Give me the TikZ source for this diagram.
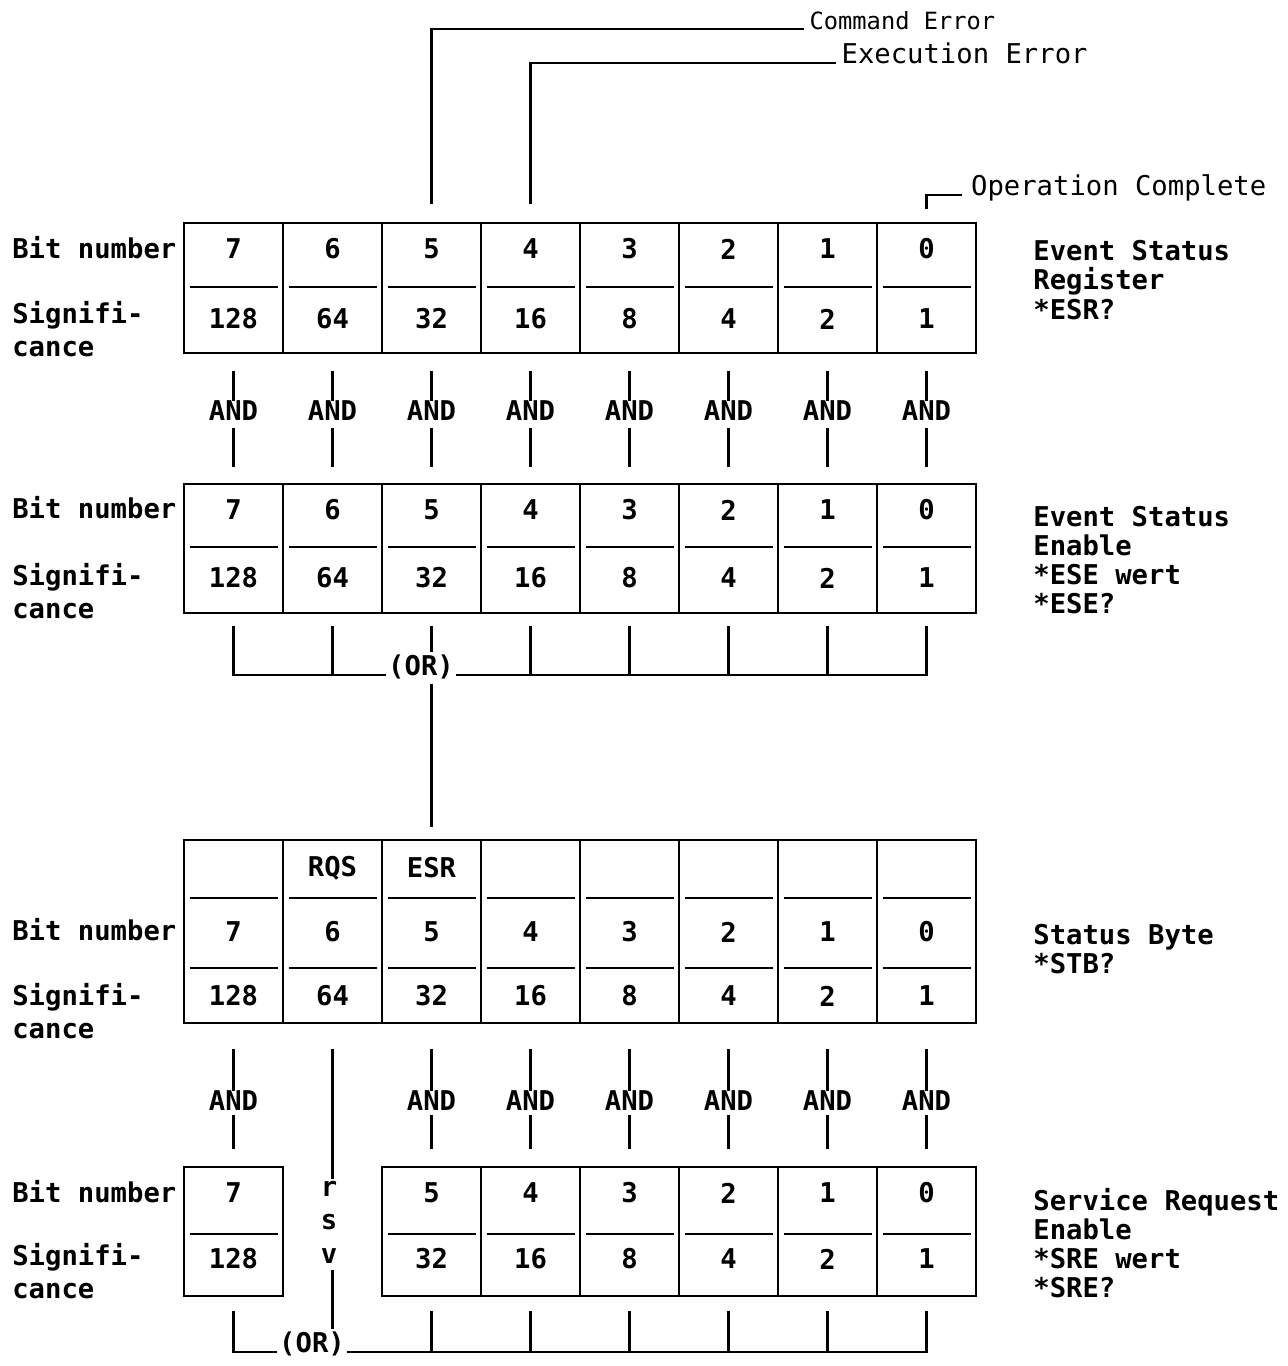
\documentclass[tikz,border=0pt]{standalone}
\usepackage{fontspec}
\usetikzlibrary{positioning}
\newfontfamily\regfamily{DejaVu Sans Mono}
\newcommand{\regfont}{\regfamily\bfseries\fontsize{15.5}{18.5}\selectfont}
\newcommand{\sidefont}{\regfamily\bfseries\fontsize{15.5}{16.6}\selectfont}
\newcommand{\notefont}{\regfamily\fontsize{15.5}{18.5}\selectfont}

\begin{document}
\begin{tikzpicture}[x=0.02cm, y=-0.02cm,
  wire/.style={line width=1.5pt},
  regcol/.style={draw, line width=1.5pt, minimum width=1.98cm, inner sep=0pt},
  bittext/.style={font=\regfont, inner sep=0pt},
  lbl/.style={font=\regfont, anchor=west, align=left, inner sep=0pt},
  sidelbl/.style={font=\sidefont, anchor=west, align=left, inner sep=0pt},
  andlbl/.style={font=\regfont, inner sep=0pt},
  orlbl/.style={font=\regfont, inner sep=1pt, anchor=base},
  note/.style={font=\notefont, anchor=base west, inner sep=3pt}]

\useasboundingbox (0,0) rectangle (1288,1366);

% --- Event Status Register ---
\foreach \b/\v [evaluate=\b as \cx using 233.5+(7-\b)*99] in {7/128,6/64,5/32,4/16,3/8,2/4,1/2,0/1} {
  \node[regcol, minimum height=2.6cm] (esr\b) at (\cx,288) {};
  \node[bittext] (esr\b-n) at (\cx,249) {\b};
  \node[bittext] (esr\b-v) at (\cx,319) {\v};
  \draw[wire] (\cx-44,287) -- (\cx+44,287);
}
\node[lbl] (esr-bn) at (12,248) {Bit number};
\node[lbl] (esr-sig) at (12,329) {Signifi-\\cance};
\node[sidelbl] (esr-name) at (1033,280) {Event Status\\Register\\*ESR?};

% --- Event Status Enable ---
\foreach \b/\v [evaluate=\b as \cx using 233.5+(7-\b)*99] in {7/128,6/64,5/32,4/16,3/8,2/4,1/2,0/1} {
  \node[regcol, minimum height=2.58cm] (ese\b) at (\cx,548.5) {};
  \node[bittext] (ese\b-n) at (\cx,510) {\b};
  \node[bittext] (ese\b-v) at (\cx,578) {\v};
  \draw[wire] (\cx-44,547) -- (\cx+44,547);
}
\node[lbl] (ese-bn) at (12,508) {Bit number};
\node[lbl] (ese-sig) at (12,591) {Signifi-\\cance};
\node[sidelbl] (ese-name) at (1033,560) {Event Status\\Enable\\*ESE wert\\*ESE?};

% --- Status Byte ---
\foreach \b/\v/\t [evaluate=\b as \cx using 233.5+(7-\b)*99] in {7/128/{},6/64/RQS,5/32/ESR,4/16/{},3/8/{},2/4/{},1/2/{},0/1/{}} {
  \node[regcol, minimum height=3.66cm] (stb\b) at (\cx,931.5) {};
  \node[bittext] (stb\b-t) at (\cx,868) {\t};
  \node[bittext] (stb\b-n) at (\cx,932) {\b};
  \node[bittext] (stb\b-v) at (\cx,996) {\v};
  \draw[wire] (\cx-44,898) -- (\cx+44,898);
  \draw[wire] (\cx-44,968) -- (\cx+44,968);
}
\node[lbl] (stb-bn) at (12,930) {Bit number};
\node[lbl] (stb-sig) at (12,1011) {Signifi-\\cance};
\node[sidelbl] (stb-name) at (1033,949) {Status Byte\\*STB?};

% --- Service Request Enable ---
\foreach \b/\v [evaluate=\b as \cx using 233.5+(7-\b)*99] in {7/128,5/32,4/16,3/8,2/4,1/2,0/1} {
  \node[regcol, minimum height=2.58cm] (sre\b) at (\cx,1231.5) {};
  \node[bittext] (sre\b-n) at (\cx,1193) {\b};
  \node[bittext] (sre\b-v) at (\cx,1259) {\v};
  \draw[wire] (\cx-44,1234) -- (\cx+44,1234);
}
\node[lbl] (sre-bn) at (12,1192) {Bit number};
\node[lbl] (sre-sig) at (12,1271) {Signifi-\\cance};
\node[sidelbl] (sre-name) at (1033,1243) {Service Request\\Enable\\*SRE wert\\*SRE?};

% --- Event bits ---
\node[note, font=\regfamily\fontsize{13.5}{16}\selectfont] (cmderr) at (804,29) {Command Error};
\node[note] (exeerr) at (836,63) {Execution Error};
\node[note, inner sep=5pt] (opcomp) at (962,195) {Operation Complete};
\draw[wire] ([yshift=0.36cm]esr5.north) |- (cmderr.base west);
\draw[wire] ([yshift=0.36cm]esr4.north) |- (exeerr.base west);
\draw[wire] ([yshift=0.26cm]esr0.north) |- (opcomp.base west);

% --- AND: ESR with ESE ---
\foreach \b [evaluate=\b as \cx using 233.5+(7-\b)*99] in {7,...,0} {
  \node[andlbl] (and-e\b) at (\cx,411) {AND};
  \draw[wire, shorten <=0.34cm] (esr\b) -- (and-e\b);
  \draw[wire, shorten <=0.14cm, shorten >=0.32cm] (and-e\b) -- (ese\b);
}

% --- OR into Status Byte ---
\node[orlbl] (or-e) at (421,675) {(OR)};
\draw[wire, shorten <=0.24cm] (ese7.south) |- (or-e.base west);
\draw[wire, shorten <=0.24cm] (ese0.south) |- (or-e.base east);
\foreach \b in {6,4,3,2,1}
  \draw[wire, shorten <=0.24cm] (ese\b.south) -- (ese\b.south |- or-e.base);
\draw[wire, shorten <=0.24cm] (ese5.south) -- (ese5.south |- or-e.north);
\draw[wire, shorten <=0.06cm, shorten >=0.24cm] (ese5.south |- or-e.south) -- (stb5.north);

% --- AND: STB with SRE ---
\foreach \b [evaluate=\b as \cx using 233.5+(7-\b)*99] in {7,5,4,3,2,1,0} {
  \node[andlbl] (and-s\b) at (\cx,1101) {AND};
  \draw[wire, shorten <=0.5cm] (stb\b) -- (and-s\b);
  \draw[wire, shorten <=0.08cm, shorten >=0.34cm] (and-s\b) -- (sre\b);
}

% --- rsv and OR of SRE ---
\node[font=\regfamily\bfseries\fontsize{15.5}{19}\selectfont, align=center, inner sep=1pt] (rsv) at (329,1222) {r\\s\\v};
\node[orlbl] (or-s) at (312,1352) {(OR)};
\draw[wire, shorten <=0.5cm] (stb6.south) -- (stb6.south |- rsv.north);
\draw[wire, shorten <=0.1cm] (stb6.south |- rsv.south) -- (stb6.south |- or-s.north);
\draw[wire, shorten <=0.28cm] (sre7.south) |- (or-s.base west);
\draw[wire, shorten <=0.28cm] (sre0.south) |- (or-s.base east);
\foreach \b in {5,4,3,2,1}
  \draw[wire, shorten <=0.28cm] (sre\b.south) -- (sre\b.south |- or-s.base);

\end{tikzpicture}
\end{document}
